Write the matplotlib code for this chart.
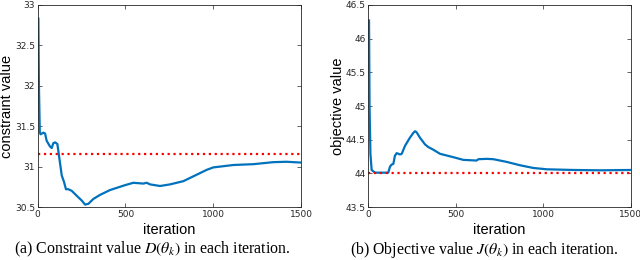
import matplotlib
matplotlib.use("Agg")
import matplotlib.pyplot as plt

plt.rcParams['mathtext.fontset'] = 'stix'

# constraint value per iteration (left panel)
it_a = [4, 7, 12, 17, 32, 42, 51, 70, 80, 89, 99, 112, 123, 137, 150, 161, 175, 194,
        222, 251, 270, 289, 317, 355, 412, 497, 545, 602, 621, 640, 697, 754, 830,
        887, 963, 1000, 1115, 1228, 1342, 1418, 1500]
val_a = [32.83, 32.0, 31.42, 31.40, 31.42, 31.41, 31.32, 31.25, 31.23, 31.29, 31.30,
         31.28, 31.11, 30.89, 30.81, 30.72, 30.72, 30.70, 30.64, 30.58, 30.53, 30.54,
         30.60, 30.65, 30.71, 30.77, 30.80, 30.79, 30.80, 30.78, 30.76, 30.78, 30.82,
         30.88, 30.96, 30.99, 31.02, 31.03, 31.055, 31.06, 31.05]
limit_a = 31.15

# objective value per iteration (right panel)
it_b = [4, 7, 12, 19, 38, 67, 95, 114, 124, 133, 143, 152, 162, 172, 181, 191, 210,
        238, 257, 267, 276, 295, 324, 343, 372, 410, 486, 543, 619, 629, 677, 715,
        791, 867, 943, 1020, 1172, 1325, 1500]
val_b = [46.27, 45.0, 44.29, 44.05, 44.01, 44.01, 44.01, 44.01, 44.10, 44.13, 44.14,
         44.26, 44.30, 44.29, 44.28, 44.29, 44.41, 44.53, 44.60, 44.625, 44.61, 44.53,
         44.43, 44.39, 44.35, 44.29, 44.24, 44.20, 44.19, 44.21, 44.215, 44.21, 44.17,
         44.12, 44.08, 44.06, 44.05, 44.045, 44.05]
limit_b = 44.0

blue = '#0072BD'
tick_col = '#262626'

fig = plt.figure(figsize=(6.4, 2.6), dpi=100)
ax1 = fig.add_axes([0.0589, 0.2038, 0.4114, 0.777])
ax2 = fig.add_axes([0.5755, 0.2038, 0.4100, 0.777])

panels = [
    (ax1, it_a, val_a, limit_a, (30.5, 33), [30.5, 31, 31.5, 32, 32.5, 33],
     ['30.5', '31', '31.5', '32', '32.5', '33'], 'constraint value',
     r'(a) Constraint value $D(\theta_k)$ in each iteration.', 0.2383),
    (ax2, it_b, val_b, limit_b, (43.5, 46.5), [43.5, 44, 44.5, 45, 45.5, 46, 46.5],
     ['43.5', '44', '44.5', '45', '45.5', '46', '46.5'], 'objective value',
     r'(b) Objective value $J(\theta_k)$ in each iteration.', 0.757),
]

for ax, x, y, lim, ylim, yt, ytl, ylab, cap, cap_x in panels:
    ax.plot(x, y, color=blue, lw=1.6)
    ax.axhline(lim, color='#FF0000', ls=':', lw=1.6)
    ax.set_xlim(0, 1500)
    ax.set_ylim(*ylim)
    ax.set_xticks([0, 500, 1000, 1500])
    ax.set_yticks(yt)
    ax.set_yticklabels(ytl)
    ax.tick_params(direction='in', top=True, right=True, labelsize=6.5,
                   colors=tick_col, length=3, width=0.5, pad=2)
    for s in ax.spines.values():
        s.set_color(tick_col)
        s.set_linewidth(0.6)
    ax.set_xlabel('iteration', fontsize=10.5, family='Liberation Sans', color='black')
    ax.xaxis.set_label_coords(0.5, -0.08)
    ax.set_ylabel(ylab, fontsize=10.5, family='Liberation Sans', color='black')
    ax.yaxis.set_label_coords(-0.09, 0.5)
    fig.text(cap_x, 1 - 240 / 260, cap, ha='center', va='top',
             fontsize=11.4, family='Liberation Serif')

fig.savefig('out.png', dpi=100)
